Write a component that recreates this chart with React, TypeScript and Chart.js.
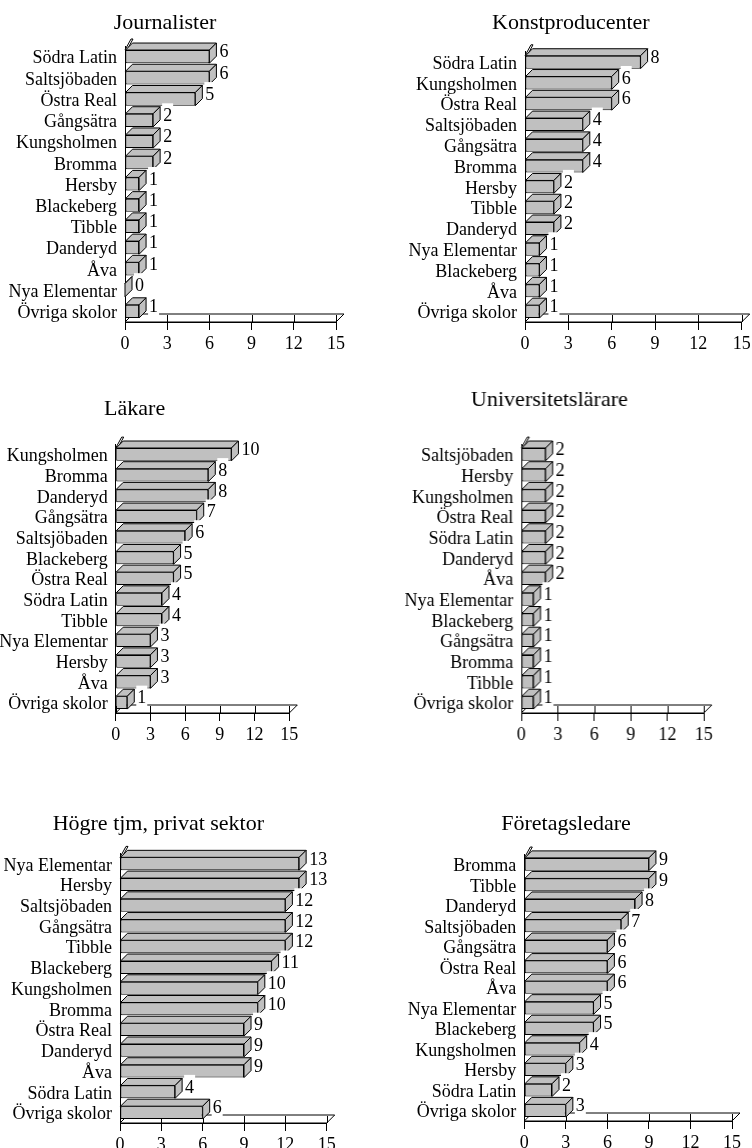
import React, { useEffect, useRef } from 'react';
import { Chart, registerables } from 'chart.js';

Chart.register(...registerables);

const FONT = '"Liberation Serif", "Times New Roman", Times, serif';

// ---------- data ----------
const journalisterLabels = ['Södra Latin', 'Saltsjöbaden', 'Östra Real', 'Gångsätra', 'Kungsholmen', 'Bromma', 'Hersby', 'Blackeberg', 'Tibble', 'Danderyd', 'Åva', 'Nya Elementar', 'Övriga skolor'];
const journalisterValues = [6, 6, 5, 2, 2, 2, 1, 1, 1, 1, 1, 0, 1];

const konstLabels = ['Södra Latin', 'Kungsholmen', 'Östra Real', 'Saltsjöbaden', 'Gångsätra', 'Bromma', 'Hersby', 'Tibble', 'Danderyd', 'Nya Elementar', 'Blackeberg', 'Åva', 'Övriga skolor'];
const konstValues = [8, 6, 6, 4, 4, 4, 2, 2, 2, 1, 1, 1, 1];

const lakareLabels = ['Kungsholmen', 'Bromma', 'Danderyd', 'Gångsätra', 'Saltsjöbaden', 'Blackeberg', 'Östra Real', 'Södra Latin', 'Tibble', 'Nya Elementar', 'Hersby', 'Åva', 'Övriga skolor'];
const lakareValues = [10, 8, 8, 7, 6, 5, 5, 4, 4, 3, 3, 3, 1];

const uniLabels = ['Saltsjöbaden', 'Hersby', 'Kungsholmen', 'Östra Real', 'Södra Latin', 'Danderyd', 'Åva', 'Nya Elementar', 'Blackeberg', 'Gångsätra', 'Bromma', 'Tibble', 'Övriga skolor'];
const uniValues = [2, 2, 2, 2, 2, 2, 2, 1, 1, 1, 1, 1, 1];

const hogreLabels = ['Nya Elementar', 'Hersby', 'Saltsjöbaden', 'Gångsätra', 'Tibble', 'Blackeberg', 'Kungsholmen', 'Bromma', 'Östra Real', 'Danderyd', 'Åva', 'Södra Latin', 'Övriga skolor'];
const hogreValues = [13, 13, 12, 12, 12, 11, 10, 10, 9, 9, 9, 4, 6];

const foretagLabels = ['Bromma', 'Tibble', 'Danderyd', 'Saltsjöbaden', 'Gångsätra', 'Östra Real', 'Åva', 'Nya Elementar', 'Blackeberg', 'Kungsholmen', 'Hersby', 'Södra Latin', 'Övriga skolor'];
const foretagValues = [9, 9, 8, 7, 6, 6, 6, 5, 5, 4, 3, 2, 3];

const titles = ['Journalister', 'Konstproducenter', 'Läkare', 'Universitetslärare', 'Högre tjm, privat sektor', 'Företagsledare'];

const xMin = 0;
const xMax = 15;
const xStep = 3;

// ---------- layout (page pixels) ----------
type Layout = { left: number; top: number; w: number; h: number; yWidth: number; padRight: number; tTop: number; tBottom: number };

const layouts: Layout[] = [
  { left: -6, top: 0, w: 356, h: 362, yWidth: 131, padRight: 14, tTop: 10.3, tBottom: 9.3 },
  { left: 400, top: 0, w: 412, h: 362, yWidth: 125, padRight: 70.3, tTop: 10.3, tBottom: 15.1 },
  { left: -20, top: 380, w: 361, h: 373, yWidth: 135.7, padRight: 51.7, tTop: 16.0, tBottom: 21.7 },
  { left: 395, top: 380, w: 437.6, h: 373, yWidth: 126, padRight: 128.9, tTop: 7.0, tBottom: 30.7 },
  { left: -10, top: 780, w: 475, h: 383, yWidth: 130, padRight: 138.3, tTop: 31.0, tBottom: 16.0 },
  { left: 400, top: 780, w: 419, h: 381, yWidth: 124.3, padRight: 87, tTop: 31.0, tBottom: 16.6 },
];

const X_AXIS_HEIGHT = 40;
const BAR_DEPTH = 7;
const FLOOR_DEPTH = 8;
const BAR_FILL = '#c0c0c0';

const bar3d = {
  id: 'bar3d',
  beforeDatasetsDraw(chart: any) {
    const { ctx, chartArea, scales } = chart;
    const { left, right, top, bottom } = chartArea;
    const d = FLOOR_DEPTH;
    ctx.save();
    ctx.lineWidth = 1;
    ctx.strokeStyle = '#000';
    ctx.fillStyle = '#fff';
    // floor slab
    ctx.beginPath();
    ctx.moveTo(left, bottom);
    ctx.lineTo(left + d, bottom - d);
    ctx.lineTo(right + d, bottom - d);
    ctx.lineTo(right, bottom);
    ctx.closePath();
    ctx.fill();
    ctx.stroke();
    // tick marks crossing the floor slab
    const xs = scales.x;
    ctx.beginPath();
    xs.ticks.forEach((t: any) => {
      const px = Math.round(xs.getPixelForValue(t.value)) + 0.5;
      ctx.moveTo(px, bottom - d + 1);
      ctx.lineTo(px, bottom);
    });
    ctx.stroke();
    // wall top edge
    ctx.beginPath();
    ctx.moveTo(left, top + 4);
    ctx.lineTo(left + 6, top - 7);
    ctx.lineTo(left + 8, top - 7);
    ctx.lineTo(left + 2, top + 4);
    ctx.closePath();
    ctx.fill();
    ctx.stroke();
    ctx.restore();
  },
  afterDatasetsDraw(chart: any) {
    const { ctx } = chart;
    const meta = chart.getDatasetMeta(0);
    const data = chart.data.datasets[0].data as number[];
    const d = BAR_DEPTH;
    ctx.save();
    ctx.lineWidth = 1;
    ctx.strokeStyle = '#000';
    ctx.lineJoin = 'miter';
    const poly = (pts: number[][]) => {
      ctx.beginPath();
      ctx.moveTo(pts[0][0], pts[0][1]);
      for (let i = 1; i < pts.length; i++) ctx.lineTo(pts[i][0], pts[i][1]);
      ctx.closePath();
      ctx.fillStyle = BAR_FILL;
      ctx.fill();
      ctx.stroke();
    };
    meta.data.forEach((el: any) => {
      const { x, y, base, height } = el.getProps(['x', 'y', 'base', 'height'], true);
      const t = y - height / 2;
      const b = y + height / 2;
      poly([[base, t], [base + d, t - d], [x + d, t - d], [x, t]]);
      poly([[x, t], [x + d, t - d], [x + d, b - d], [x, b]]);
    });
    ctx.font = `18px ${FONT}`;
    ctx.textBaseline = 'middle';
    ctx.textAlign = 'left';
    meta.data.forEach((el: any, i: number) => {
      const { x, y } = el.getProps(['x', 'y'], true);
      const text = String(data[i]);
      const lx = x + d + 3;
      const ly = y - 4;
      const w = ctx.measureText(text).width;
      ctx.fillStyle = '#fff';
      ctx.fillRect(lx - 1, ly - 13, w + 2, 22);
      ctx.fillStyle = '#000';
      ctx.fillText(text, lx, ly);
    });
    ctx.restore();
  },
};

function Panel({ title, labels, values, layout }: { title: string; labels: string[]; values: number[]; layout: Layout }) {
  const ref = useRef<HTMLCanvasElement>(null);
  useEffect(() => {
    const canvas = ref.current;
    if (!canvas) return;
    const chart = new Chart(canvas, {
      type: 'bar',
      data: {
        labels,
        datasets: [
          {
            data: values,
            backgroundColor: BAR_FILL,
            borderColor: '#000',
            borderWidth: 1,
            borderSkipped: false,
            barPercentage: 0.62,
            categoryPercentage: 1,
          },
        ],
      },
      options: {
        indexAxis: 'y',
        responsive: false,
        maintainAspectRatio: false,
        animation: false,
        events: [],
        layout: { padding: { left: 0, right: layout.padRight, top: 0, bottom: 0 } },
        plugins: {
          legend: { display: false },
          tooltip: { enabled: false },
          title: {
            display: true,
            text: title,
            color: '#000',
            font: { family: FONT, size: 22, weight: 'normal' },
            padding: { top: layout.tTop, bottom: layout.tBottom },
          },
        },
        scales: {
          x: {
            type: 'linear',
            min: xMin,
            max: xMax,
            afterFit: (axis: any) => {
              axis.height = X_AXIS_HEIGHT;
            },
            ticks: {
              stepSize: xStep,
              color: '#000',
              padding: 3.5,
              font: { family: FONT, size: 18 },
            },
            grid: {
              drawOnChartArea: false,
              drawTicks: true,
              tickLength: 8,
              color: '#000',
              lineWidth: 1,
            },
            border: { display: true, color: '#000', width: 1 },
          },
          y: {
            type: 'category',
            afterFit: (axis: any) => {
              axis.width = layout.yWidth;
            },
            ticks: {
              color: '#000',
              padding: 8,
              labelOffset: 2,
              autoSkip: false,
              font: { family: FONT, size: 18 },
            },
            grid: { display: false, drawTicks: false },
            border: { display: true, color: '#000', width: 1 },
          },
        },
      },
      plugins: [bar3d],
    } as any);
    return () => chart.destroy();
  }, []);
  return (
    <canvas
      ref={ref}
      width={layout.w}
      height={layout.h}
      style={{ position: 'absolute', left: layout.left, top: layout.top, width: layout.w, height: layout.h }}
    />
  );
}

const panelLabels = [journalisterLabels, konstLabels, lakareLabels, uniLabels, hogreLabels, foretagLabels];
const panelValues = [journalisterValues, konstValues, lakareValues, uniValues, hogreValues, foretagValues];

export default function App() {
  return (
    <div
      style={{
        position: 'absolute',
        left: 0,
        top: 0,
        width: 752,
        height: 1148,
        overflow: 'hidden',
        background: '#fff',
      }}
    >
      {titles.map((t, i) => (
        <Panel key={t} title={t} labels={panelLabels[i]} values={panelValues[i]} layout={layouts[i]} />
      ))}
    </div>
  );
}
